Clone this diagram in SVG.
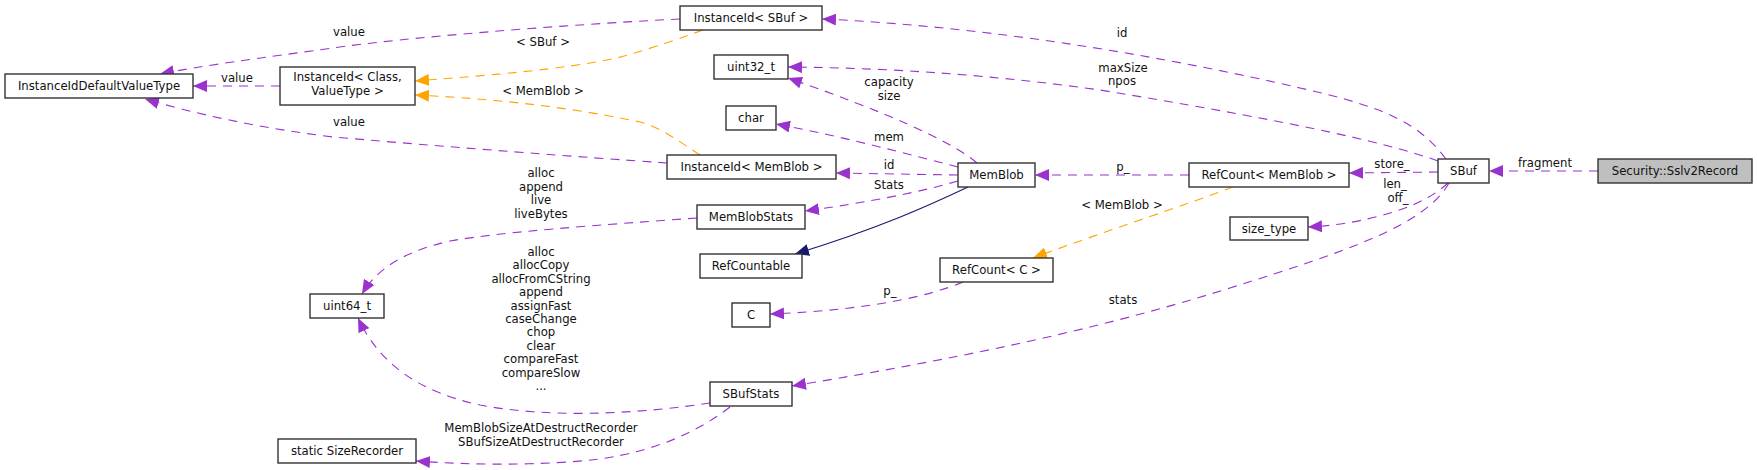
<svg xmlns="http://www.w3.org/2000/svg" width="1757" height="470" viewBox="0 0 1757 470">
<defs>
<style>
.box{fill:#ffffff;stroke:#333333;stroke-width:1.4}
.main{fill:#bfbfbf;stroke:#333333;stroke-width:1.4}
text{font-family:"DejaVu Sans","Liberation Sans",sans-serif;font-size:11.7px;fill:#111111;text-anchor:middle}
.p{fill:none;stroke:#9a32cd;stroke-width:1.1;stroke-dasharray:9,7}
.o{fill:none;stroke:#ffa500;stroke-width:1.1;stroke-dasharray:9,7}
.n{fill:none;stroke:#191970;stroke-width:1.1}
</style>
<marker id="ap" markerUnits="userSpaceOnUse" markerWidth="15" markerHeight="12" refX="14" refY="6" orient="auto"><path d="M0,0 L14,6 L0,12 z" fill="#9a32cd"/></marker>
<marker id="ao" markerUnits="userSpaceOnUse" markerWidth="15" markerHeight="12" refX="14" refY="6" orient="auto"><path d="M0,0 L14,6 L0,12 z" fill="#ffa500"/></marker>
<marker id="an" markerUnits="userSpaceOnUse" markerWidth="15" markerHeight="12" refX="14" refY="6" orient="auto"><path d="M0,0 L14,6 L0,12 z" fill="#191970"/></marker>
</defs>
<rect width="1757" height="470" fill="#ffffff"/>
<g id="connectors">
<path class="p" marker-end="url(#ap)" d="M1598,171 L1489,171"/>
<text x="1545" y="167">fragment</text>
<path class="p" marker-end="url(#ap)" d="M1446,159 C1420,125 1390,108 1300,88 C1180,60 1000,27 822,19"/>
<text x="1122" y="37">id</text>
<path class="p" marker-end="url(#ap)" d="M1438,161 C1380,140 1270,118 1100,90 C1000,76 900,68 788,67"/>
<text x="1123" y="72">maxSize</text>
<text x="1122" y="85">npos</text>
<path class="p" marker-end="url(#ap)" d="M1438,172 L1349,173"/>
<text x="1392" y="168">store_</text>
<path class="p" marker-end="url(#ap)" d="M1448,183 C1430,200 1400,212 1367,219 C1350,223 1330,226 1308,227"/>
<text x="1395" y="188">len_</text>
<text x="1398" y="202">off_</text>
<path class="p" marker-end="url(#ap)" d="M1449,183 C1425,225 1350,250 1230,288 C1090,332 950,360 792,386"/>
<text x="1123" y="304">stats</text>
<path class="p" marker-end="url(#ap)" d="M1189,175 L1035,175"/>
<text x="1123" y="171">p_</text>
<path class="o" marker-end="url(#ao)" d="M1233,187 C1180,207 1100,233 1033,258"/>
<text x="1122" y="209">&lt; MemBlob &gt;</text>
<path class="p" marker-end="url(#ap)" d="M958,175 L836,173"/>
<text x="889" y="169">id</text>
<path class="p" marker-end="url(#ap)" d="M958,181 C920,192 870,202 805,211"/>
<text x="889" y="189">Stats</text>
<path class="n" marker-end="url(#an)" d="M968,187 C930,205 880,228 795,254"/>
<path class="p" marker-end="url(#ap)" d="M958,167 C900,152 840,136 776,124"/>
<text x="889" y="141">mem</text>
<path class="p" marker-end="url(#ap)" d="M977,163 C950,140 880,110 788,78"/>
<text x="889" y="86">capacity</text>
<text x="889" y="100">size</text>
<path class="p" marker-end="url(#ap)" d="M963,282 C930,296 870,310 770,314"/>
<text x="890" y="295">p_</text>
<path class="o" marker-end="url(#ao)" d="M700,155 C680,142 660,127 640,122 C560,105 480,98 415,95"/>
<text x="543" y="95">&lt; MemBlob &gt;</text>
<path class="o" marker-end="url(#ao)" d="M703,30 C670,42 640,52 617,58 C560,70 480,76 415,81"/>
<text x="543" y="46">&lt; SBuf &gt;</text>
<path class="p" marker-end="url(#ap)" d="M680,19 C560,25 400,38 333,48 C260,58 200,66 160,74"/>
<text x="349" y="36">value</text>
<path class="p" marker-end="url(#ap)" d="M280,86 L193,86"/>
<text x="237" y="82">value</text>
<path class="p" marker-end="url(#ap)" d="M667,163 C580,157 460,148 333,137 C260,128 200,115 145,99"/>
<text x="349" y="126">value</text>
<path class="p" marker-end="url(#ap)" d="M697,218 C600,225 500,232 450,241 C400,252 375,272 362,294"/>
<text x="541" y="177">alloc</text>
<text x="541" y="191">append</text>
<text x="541" y="204">live</text>
<text x="541" y="218">liveBytes</text>
<path class="p" marker-end="url(#ap)" d="M710,403 C650,412 560,420 480,405 C420,392 380,365 358,318"/>
<text x="541" y="256">alloc</text>
<text x="541" y="269.4">allocCopy</text>
<text x="541" y="282.8">allocFromCString</text>
<text x="541" y="296.2">append</text>
<text x="541" y="309.6">assignFast</text>
<text x="541" y="323">caseChange</text>
<text x="541" y="336.4">chop</text>
<text x="541" y="349.8">clear</text>
<text x="541" y="363.2">compareFast</text>
<text x="541" y="376.6">compareSlow</text>
<text x="541" y="390">...</text>
<path class="p" marker-end="url(#ap)" d="M730,407 C700,430 660,450 600,459 C540,466 470,465 416,461"/>
<text x="541" y="432">MemBlobSizeAtDestructRecorder</text>
<text x="541" y="446">SBufSizeAtDestructRecorder</text>
</g>
<g id="n_sslv2"><rect class="main" x="1598" y="159" width="154" height="24"/><text x="1675" y="175">Security::Sslv2Record</text></g>
<g id="n_sbuf"><rect class="box" x="1438" y="159" width="51" height="24"/><text x="1463.5" y="175">SBuf</text></g>
<g id="n_idsbuf"><rect class="box" x="680" y="6" width="142" height="24"/><text x="751" y="22">InstanceId&lt; SBuf &gt;</text></g>
<g id="n_idvt"><rect class="box" x="5" y="74" width="188" height="24"/><text x="99" y="90">InstanceIdDefaultValueType</text></g>
<g id="n_idclass"><rect class="box" x="280" y="67" width="135" height="38"/><text x="347.5" y="81">InstanceId&lt; Class,</text><text x="347.5" y="95">ValueType &gt;</text></g>
<g id="n_uint32"><rect class="box" x="714" y="55" width="74" height="24"/><text x="751" y="71">uint32_t</text></g>
<g id="n_char"><rect class="box" x="726" y="106" width="50" height="24"/><text x="751" y="122">char</text></g>
<g id="n_idmemblob"><rect class="box" x="667" y="155" width="169" height="24"/><text x="751.5" y="171">InstanceId&lt; MemBlob &gt;</text></g>
<g id="n_memblobstats"><rect class="box" x="697" y="205" width="108" height="24"/><text x="751" y="221">MemBlobStats</text></g>
<g id="n_refcountable"><rect class="box" x="700" y="254" width="102" height="24"/><text x="751" y="270">RefCountable</text></g>
<g id="n_c"><rect class="box" x="732" y="303" width="38" height="24"/><text x="751" y="319">C</text></g>
<g id="n_sbufstats"><rect class="box" x="710" y="382" width="82" height="24"/><text x="751" y="398">SBufStats</text></g>
<g id="n_sizerec"><rect class="box" x="278" y="439" width="138" height="24"/><text x="347" y="455">static SizeRecorder</text></g>
<g id="n_uint64"><rect class="box" x="310" y="294" width="74" height="24"/><text x="347" y="310">uint64_t</text></g>
<g id="n_memblob"><rect class="box" x="958" y="163" width="77" height="24"/><text x="996.5" y="179">MemBlob</text></g>
<g id="n_rcmemblob"><rect class="box" x="1189" y="163" width="160" height="24"/><text x="1269" y="179">RefCount&lt; MemBlob &gt;</text></g>
<g id="n_sizetype"><rect class="box" x="1230" y="217" width="78" height="23"/><text x="1269" y="232.5">size_type</text></g>
<g id="n_rcc"><rect class="box" x="940" y="258" width="113" height="24"/><text x="996.5" y="274">RefCount&lt; C &gt;</text></g>
</svg>
